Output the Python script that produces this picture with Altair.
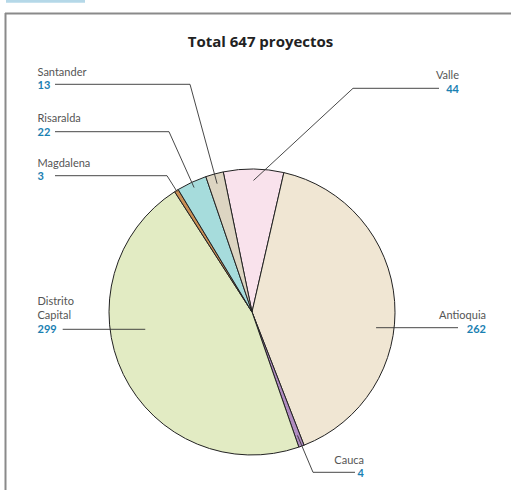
import math
import pandas as pd
import altair as alt

# ---- data ----
regions = ["Valle", "Antioquia", "Cauca", "Distrito Capital", "Magdalena", "Risaralda", "Santander"]
values = [44, 262, 4, 299, 3, 22, 13]
label_names = ["Valle", "Antioquia", "Cauca", "Distrito\nCapital", "Magdalena", "Risaralda", "Santander"]
title_text = "Total 647 proyectos"

# ---- styling / layout ----
colors = ["#f9e2ec", "#f0e6d3", "#b08cc0", "#e2ebc3", "#c98f55", "#a6dcdc", "#ddd5c2"]
CX, CY, R = 252, 312, 143
START_DEG = -11.6
label_x = [459, 486, 364, 37.5, 37.5, 37.5, 37.5]
label_align = ["right", "right", "right", "left", "left", "left", "left"]
name_y = [79, 319, 464, 305, 167, 122, 75.5]
value_y = [92.7, 333, 477, 333, 180, 136, 89]
line_y = [88.3, 327.7, 472.3, 329.3, 175.7, 131.7, 84.3]
line_x0 = [439, 458, 355, 62.7, 55, 55, 55]
elbow_x = [353, None, 313, None, 167, 169, 190]
anchor_frac = [0.92, 0.87, 0.92, 0.83, 0.99, 0.96, 0.93]
FONT = "Lato"
TITLE_FONT = "Open Sans"
W, H = 511, 490

total = sum(values)
pie_df = pd.DataFrame({"region": regions, "value": values, "idx": list(range(len(regions)))})

# leader lines: anchors computed from slice mid-angles
pts = []
cum = 0
for i, (reg, v) in enumerate(zip(regions, values)):
    mid = START_DEG + (cum + v / 2) / total * 360
    cum += v
    r = anchor_frac[i] * R
    ax = CX + r * math.sin(math.radians(mid))
    ay = CY - r * math.cos(math.radians(mid))
    ly = line_y[i]
    seq = [(line_x0[i], ly)]
    if elbow_x[i] is None:
        seq.append((ax, ly))
    else:
        seq.append((elbow_x[i], ly))
        seq.append((ax, ay))
    for k, (px, py) in enumerate(seq):
        pts.append({"region": reg, "seq": k, "px": px, "py": py})
lines_df = pd.DataFrame(pts)

lab_df = pd.DataFrame({
    "region": regions, "name": label_names, "value": [str(v) for v in values],
    "lx": label_x, "ny": name_y, "vy": value_y, "align": label_align,
})

xs = alt.Scale(domain=[0, W], range=[0, W], nice=False, zero=False)
ys = alt.Scale(domain=[0, H], range=[0, H], nice=False, zero=False)

s_rad = math.radians(START_DEG)
pie = alt.Chart(pie_df).mark_arc(outerRadius=R, stroke="#222222", strokeWidth=1).encode(
    theta=alt.Theta("value:Q", stack=True, scale=alt.Scale(range=[s_rad, s_rad + 2 * math.pi])),
    color=alt.Color("region:N", scale=alt.Scale(domain=regions, range=colors), legend=None),
    order=alt.Order("idx:Q"),
    x=alt.value(CX),
    y=alt.value(CY),
)

leaders = alt.Chart(lines_df).mark_line(color="#333333", strokeWidth=0.9).encode(
    x=alt.X("px:Q", scale=xs, axis=None),
    y=alt.Y("py:Q", scale=ys, axis=None),
    detail="region:N",
    order="seq:Q",
)

layers = [pie, leaders]
for al in ["left", "right"]:
    sub = lab_df[lab_df["align"] == al]
    names = alt.Chart(sub).mark_text(
        align=al, baseline="alphabetic", font=FONT, fontSize=11, color="#555555",
        lineBreak="\n", lineHeight=14,
    ).encode(x=alt.X("lx:Q", scale=xs, axis=None), y=alt.Y("ny:Q", scale=ys, axis=None), text="name:N")
    vals = alt.Chart(sub).mark_text(
        align=al, baseline="alphabetic", font=FONT, fontSize=11, fontWeight="bold", color="#1a80b2",
    ).encode(x=alt.X("lx:Q", scale=xs, axis=None), y=alt.Y("vy:Q", scale=ys, axis=None), text="value:N")
    layers += [names, vals]

title_df = pd.DataFrame({"t": [title_text], "tx": [260.5], "ty": [46.5]})
title = alt.Chart(title_df).mark_text(
    align="center", baseline="alphabetic", font=TITLE_FONT, fontSize=15, fontWeight="bold", color="#222222"
).encode(x=alt.X("tx:Q", scale=xs, axis=None), y=alt.Y("ty:Q", scale=ys, axis=None), text="t:N")
layers.append(title)

one = pd.DataFrame({"a": [0]})
top_rule = alt.Chart(one).mark_rule(color="#8a8a8a", strokeWidth=2).encode(
    x=alt.value(5), x2=alt.value(W), y=alt.value(13.5))
left_rule = alt.Chart(one).mark_rule(color="#8a8a8a", strokeWidth=2).encode(
    x=alt.value(5.5), y=alt.value(13), y2=alt.value(H))
blue = alt.Chart(one).mark_rect(color="#b5d8e8").encode(
    x=alt.value(6), x2=alt.value(85), y=alt.value(0), y2=alt.value(2.7))
layers += [top_rule, left_rule, blue]

chart = alt.layer(*layers).properties(
    width=W, height=H, autosize="none", padding=0, background="white"
).configure_view(stroke=None)

chart.save("out.html", embed_options={"renderer": "svg", "actions": False})
